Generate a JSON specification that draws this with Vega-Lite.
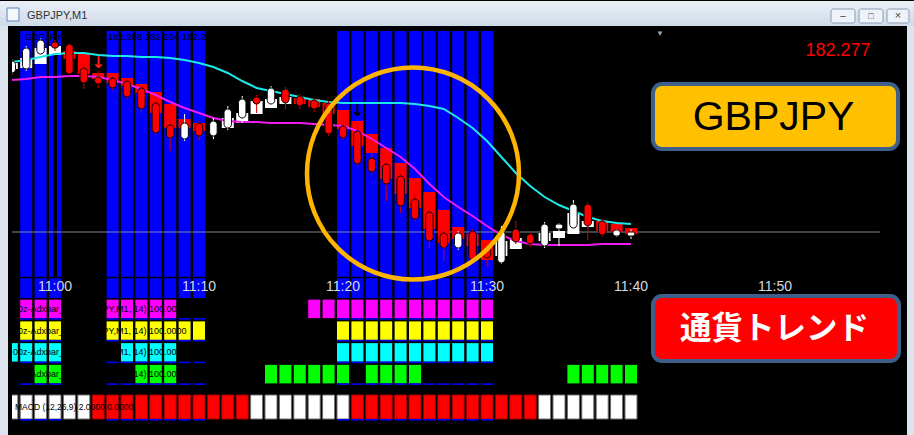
{
"$schema":"https://vega.github.io/schema/vega-lite/v6.json",
"background":"#000000",
"padding":0,
"autosize":{"type":"pad"},
"spacing":0,
"bounds":"flush",
"resolve":{"scale":{"color":"independent","fill":"independent","stroke":"independent"}},
"config":{"view":{"stroke":null},"axis":{"disable":true},"legend":{"disable":true},"font":"Liberation Sans","scale":{"continuousPadding":0}},
"datasets":{
"bars":[
{"m":-3,"ha":"up","hah":182.446,"hal":182.440,"o":182.436,"h":182.450,"l":182.434,"c":182.448},
{"m":-2,"ha":"up","hah":182.451,"hal":182.441,"o":182.440,"h":182.463,"l":182.438,"c":182.461},
{"m":-1,"ha":"up","hah":182.461,"hal":182.445,"o":182.455,"h":182.472,"l":182.453,"c":182.469},
{"m":0,"ha":"up","hah":182.463,"hal":182.454,"o":182.467,"h":182.469,"l":182.458,"c":182.461},
{"m":1,"ha":"down","hah":182.458,"hal":182.450,"o":182.465,"h":182.466,"l":182.433,"c":182.435},
{"m":2,"ha":"down","hah":182.455,"hal":182.435,"o":182.441,"h":182.446,"l":182.420,"c":182.426},
{"m":3,"ha":"down","hah":182.436,"hal":182.430,"o":182.432,"h":182.438,"l":182.421,"c":182.425},
{"m":4,"ha":"down","hah":182.436,"hal":182.426,"o":182.431,"h":182.433,"l":182.419,"c":182.421},
{"m":5,"ha":"down","hah":182.431,"hal":182.423,"o":182.428,"h":182.430,"l":182.410,"c":182.412},
{"m":6,"ha":"down","hah":182.425,"hal":182.416,"o":182.421,"h":182.423,"l":182.396,"c":182.400},
{"m":7,"ha":"down","hah":182.417,"hal":182.396,"o":182.406,"h":182.408,"l":182.374,"c":182.376},
{"m":8,"ha":"down","hah":182.405,"hal":182.381,"o":182.384,"h":182.390,"l":182.358,"c":182.371},
{"m":9,"ha":"down","hah":182.390,"hal":182.381,"o":182.370,"h":182.395,"l":182.368,"c":182.386},
{"m":10,"ha":"down","hah":182.386,"hal":182.378,"o":182.386,"h":182.388,"l":182.369,"c":182.373},
{"m":11,"ha":null,"hah":null,"hal":null,"o":182.373,"h":182.391,"l":182.370,"c":182.388},
{"m":12,"ha":"up","hah":182.391,"hal":182.381,"o":182.381,"h":182.403,"l":182.379,"c":182.400},
{"m":13,"ha":"up","hah":182.396,"hal":182.386,"o":182.391,"h":182.413,"l":182.386,"c":182.410},
{"m":14,"ha":"up","hah":182.408,"hal":182.395,"o":182.412,"h":182.414,"l":182.396,"c":182.405},
{"m":15,"ha":"up","hah":182.410,"hal":182.401,"o":182.405,"h":182.423,"l":182.402,"c":182.421},
{"m":16,"ha":"up","hah":182.412,"hal":182.405,"o":182.420,"h":182.422,"l":182.400,"c":182.406},
{"m":17,"ha":"down","hah":182.411,"hal":182.405,"o":182.413,"h":182.415,"l":182.400,"c":182.403},
{"m":18,"ha":"down","hah":182.410,"hal":182.402,"o":182.409,"h":182.411,"l":182.397,"c":182.400},
{"m":19,"ha":"down","hah":182.406,"hal":182.395,"o":182.406,"h":182.408,"l":182.373,"c":182.375},
{"m":20,"ha":"down","hah":182.399,"hal":182.380,"o":182.383,"h":182.385,"l":182.369,"c":182.371},
{"m":21,"ha":"down","hah":182.388,"hal":182.363,"o":182.378,"h":182.390,"l":182.343,"c":182.345},
{"m":22,"ha":"down","hah":182.375,"hal":182.356,"o":182.351,"h":182.357,"l":182.335,"c":182.337},
{"m":23,"ha":"down","hah":182.361,"hal":182.330,"o":182.345,"h":182.347,"l":182.308,"c":182.325},
{"m":24,"ha":"down","hah":182.346,"hal":182.315,"o":182.333,"h":182.335,"l":182.296,"c":182.303},
{"m":25,"ha":"down","hah":182.331,"hal":182.301,"o":182.310,"h":182.316,"l":182.288,"c":182.290},
{"m":26,"ha":"down","hah":182.317,"hal":182.280,"o":182.297,"h":182.299,"l":182.261,"c":182.268},
{"m":27,"ha":"down","hah":182.299,"hal":182.266,"o":182.276,"h":182.278,"l":182.248,"c":182.261},
{"m":28,"ha":"down","hah":182.282,"hal":182.270,"o":182.261,"h":182.278,"l":182.259,"c":182.276},
{"m":29,"ha":"down","hah":182.275,"hal":182.263,"o":182.278,"h":182.280,"l":182.247,"c":182.249},
{"m":30,"ha":"down","hah":182.269,"hal":182.249,"o":182.261,"h":182.263,"l":182.242,"c":182.251},
{"m":31,"ha":"up","hah":182.268,"hal":182.253,"o":182.246,"h":182.283,"l":182.245,"c":182.278},
{"m":32,"ha":"up","hah":182.271,"hal":182.260,"o":182.280,"h":182.288,"l":182.265,"c":182.267},
{"m":33,"ha":null,"hah":null,"hal":null,"o":182.275,"h":182.277,"l":182.262,"c":182.265},
{"m":34,"ha":"up","hah":182.276,"hal":182.268,"o":182.263,"h":182.287,"l":182.261,"c":182.285},
{"m":35,"ha":"up","hah":182.278,"hal":182.271,"o":182.280,"h":182.286,"l":182.263,"c":182.285},
{"m":36,"ha":"up","hah":182.296,"hal":182.275,"o":182.281,"h":182.309,"l":182.279,"c":182.305},
{"m":37,"ha":"up","hah":182.288,"hal":182.282,"o":182.305,"h":182.307,"l":182.269,"c":182.283},
{"m":38,"ha":"down","hah":182.288,"hal":182.278,"o":182.288,"h":182.290,"l":182.272,"c":182.274},
{"m":39,"ha":"down","hah":182.285,"hal":182.277,"o":182.273,"h":182.280,"l":182.272,"c":182.279},
{"m":40,"ha":"down","hah":182.281,"hal":182.275,"o":182.273,"h":182.280,"l":182.270,"c":182.277}
],
"ma":[
{"m":-3,"slow":182.447,"fast":182.429},{"m":-2,"slow":182.449,"fast":182.430},{"m":-1,"slow":182.452,"fast":182.432},{"m":0,"slow":182.455,"fast":182.432},
{"m":1,"slow":182.456,"fast":182.433},{"m":2,"slow":182.456,"fast":182.433},{"m":3,"slow":182.454,"fast":182.432},{"m":4,"slow":182.453,"fast":182.429},
{"m":5,"slow":182.453,"fast":182.425},{"m":6,"slow":182.452,"fast":182.420},{"m":7,"slow":182.452,"fast":182.414},{"m":8,"slow":182.451,"fast":182.407},
{"m":9,"slow":182.449,"fast":182.401},{"m":10,"slow":182.446,"fast":182.396},{"m":11,"slow":182.442,"fast":182.391},{"m":12,"slow":182.436,"fast":182.388},
{"m":13,"slow":182.428,"fast":182.387},{"m":14,"slow":182.421,"fast":182.387},{"m":15,"slow":182.418,"fast":182.386},{"m":16,"slow":182.415,"fast":182.386},
{"m":17,"slow":182.412,"fast":182.386},{"m":18,"slow":182.409,"fast":182.385},{"m":19,"slow":182.407,"fast":182.384},{"m":20,"slow":182.406,"fast":182.383},
{"m":21,"slow":182.406,"fast":182.378},{"m":22,"slow":182.406,"fast":182.370},{"m":23,"slow":182.406,"fast":182.361},{"m":24,"slow":182.406,"fast":182.352},
{"m":25,"slow":182.405,"fast":182.340},{"m":26,"slow":182.403,"fast":182.325},{"m":27,"slow":182.400,"fast":182.312},{"m":28,"slow":182.391,"fast":182.302},
{"m":29,"slow":182.381,"fast":182.293},{"m":30,"slow":182.368,"fast":182.283},{"m":31,"slow":182.352,"fast":182.274},{"m":32,"slow":182.336,"fast":182.268},
{"m":33,"slow":182.323,"fast":182.265},{"m":34,"slow":182.312,"fast":182.264},{"m":35,"slow":182.304,"fast":182.264},{"m":36,"slow":182.298,"fast":182.264},
{"m":37,"slow":182.292,"fast":182.264},{"m":38,"slow":182.288,"fast":182.265},{"m":39,"slow":182.286,"fast":182.265},{"m":40,"slow":182.285,"fast":182.265}
],
"bluecols":[{"m":-2},{"m":-1},{"m":0},{"m":4},{"m":5},{"m":6},{"m":7},{"m":8},{"m":9},{"m":10},{"m":20},{"m":21},{"m":22},{"m":23},{"m":24},{"m":25},{"m":26},{"m":27},{"m":28},{"m":29},{"m":30}],
"times":[{"m":0,"label":"11:00"},{"m":10,"label":"11:10"},{"m":20,"label":"11:20"},{"m":30,"label":"11:30"},{"m":40,"label":"11:40"},{"m":50,"label":"11:50"}],
"arrows":[{"m":3,"p":182.438,"kind":"sell"},{"m":21,"p":182.390,"kind":"signal"}],
"cells":[
{"m":-2,"row":"mag"},{"m":-1,"row":"mag"},{"m":0,"row":"mag"},{"m":4,"row":"mag"},{"m":5,"row":"mag"},{"m":6,"row":"mag"},{"m":7,"row":"mag"},{"m":8,"row":"mag"},
{"m":18,"row":"mag"},{"m":19,"row":"mag"},{"m":20,"row":"mag"},{"m":21,"row":"mag"},{"m":22,"row":"mag"},{"m":23,"row":"mag"},{"m":24,"row":"mag"},{"m":25,"row":"mag"},{"m":26,"row":"mag"},{"m":27,"row":"mag"},{"m":28,"row":"mag"},{"m":29,"row":"mag"},{"m":30,"row":"mag"},
{"m":-2,"row":"yel"},{"m":-1,"row":"yel"},{"m":0,"row":"yel"},{"m":4,"row":"yel"},{"m":5,"row":"yel"},{"m":6,"row":"yel"},{"m":7,"row":"yel"},{"m":8,"row":"yel"},{"m":9,"row":"yel"},{"m":10,"row":"yel"},
{"m":20,"row":"yel"},{"m":21,"row":"yel"},{"m":22,"row":"yel"},{"m":23,"row":"yel"},{"m":24,"row":"yel"},{"m":25,"row":"yel"},{"m":26,"row":"yel"},{"m":27,"row":"yel"},{"m":28,"row":"yel"},{"m":29,"row":"yel"},{"m":30,"row":"yel"},
{"m":-3,"row":"cyan"},{"m":-2,"row":"cyan"},{"m":-1,"row":"cyan"},{"m":0,"row":"cyan"},{"m":5,"row":"cyan"},{"m":6,"row":"cyan"},{"m":7,"row":"cyan"},{"m":8,"row":"cyan"},
{"m":20,"row":"cyan"},{"m":21,"row":"cyan"},{"m":22,"row":"cyan"},{"m":23,"row":"cyan"},{"m":24,"row":"cyan"},{"m":25,"row":"cyan"},{"m":26,"row":"cyan"},{"m":27,"row":"cyan"},{"m":28,"row":"cyan"},{"m":29,"row":"cyan"},{"m":30,"row":"cyan"},
{"m":-1,"row":"grn"},{"m":0,"row":"grn"},{"m":6,"row":"grn"},{"m":7,"row":"grn"},{"m":8,"row":"grn"},{"m":15,"row":"grn"},{"m":16,"row":"grn"},{"m":17,"row":"grn"},{"m":18,"row":"grn"},{"m":19,"row":"grn"},{"m":20,"row":"grn"},
{"m":22,"row":"grn"},{"m":23,"row":"grn"},{"m":24,"row":"grn"},{"m":25,"row":"grn"},{"m":36,"row":"grn"},{"m":37,"row":"grn"},{"m":38,"row":"grn"},{"m":39,"row":"grn"},{"m":40,"row":"grn"}
],
"macd":[
{"m":-3,"state":"white"},{"m":-2,"state":"white"},{"m":-1,"state":"white"},{"m":0,"state":"white"},{"m":1,"state":"white"},{"m":2,"state":"white"},
{"m":3,"state":"red"},{"m":4,"state":"red"},{"m":5,"state":"red"},{"m":6,"state":"red"},{"m":7,"state":"red"},{"m":8,"state":"red"},{"m":9,"state":"red"},{"m":10,"state":"red"},{"m":11,"state":"red"},{"m":12,"state":"red"},{"m":13,"state":"red"},
{"m":14,"state":"white"},{"m":15,"state":"white"},{"m":16,"state":"white"},{"m":17,"state":"white"},{"m":18,"state":"white"},{"m":19,"state":"white"},{"m":20,"state":"white"},
{"m":21,"state":"red"},{"m":22,"state":"red"},{"m":23,"state":"red"},{"m":24,"state":"red"},{"m":25,"state":"red"},{"m":26,"state":"red"},{"m":27,"state":"red"},{"m":28,"state":"red"},{"m":29,"state":"red"},{"m":30,"state":"red"},{"m":31,"state":"red"},{"m":32,"state":"red"},{"m":33,"state":"red"},
{"m":34,"state":"white"},{"m":35,"state":"white"},{"m":36,"state":"white"},{"m":37,"state":"white"},{"m":38,"state":"white"},{"m":39,"state":"white"},{"m":40,"state":"white"}
],
"rowlabels":[{"row":"mag"},{"row":"yel"},{"row":"cyan"},{"row":"grn"}]
},
"vconcat":[
{
"width":895,"height":272,
"layer":[
{"data":{"values":[{}]},"mark":{"type":"rect","fill":{"gradient":"linear","x1":0,"y1":0,"x2":0,"y2":1,"stops":[{"offset":0,"color":"#eaf0f7"},{"offset":1,"color":"#cfdae8"}]}},
 "encoding":{"x":{"datum":-3.819,"type":"quantitative","scale":{"domain":[-2.986,59.167],"nice":false,"zero":false,"padding":0}},"x2":{"datum":30},"y":{"datum":182.508,"type":"quantitative","scale":{"domain":[182.211,182.483],"nice":false,"zero":false,"padding":0}},"y2":{"datum":182.483}}},
{"data":{"values":[{}]},"mark":{"type":"rect","fill":{"gradient":"linear","x1":0,"y1":0,"x2":0,"y2":1,"stops":[{"offset":0,"color":"#eaf0f7"},{"offset":1,"color":"#cfdae8"}]}},
 "encoding":{"x":{"datum":59.653,"type":"quantitative","scale":{"domain":[-2.986,59.167],"nice":false,"zero":false,"padding":0}},"x2":{"datum":29.9},"y":{"datum":182.508,"type":"quantitative","scale":{"domain":[182.211,182.483],"nice":false,"zero":false,"padding":0}},"y2":{"datum":182.483}}},
{"data":{"values":[{}]},"mark":{"type":"rect","fill":"#dce4ee"},
 "encoding":{"x":{"datum":-3.819,"type":"quantitative","scale":{"domain":[-2.986,59.167],"nice":false,"zero":false,"padding":0}},"x2":{"datum":-2.986},"y":{"datum":182.483,"type":"quantitative","scale":{"domain":[182.211,182.483],"nice":false,"zero":false,"padding":0}},"y2":{"datum":182.211}}},
{"data":{"values":[{}]},"mark":{"type":"rect","fill":"#dce4ee"},
 "encoding":{"x":{"datum":-3.819,"type":"quantitative","scale":{"domain":[-2.986,59.167],"nice":false,"zero":false,"padding":0}},"x2":{"datum":-2.986},"y":{"datum":182.073,"type":"quantitative","scale":{"domain":[182.211,182.483],"nice":false,"zero":false,"padding":0}},"y2":{"datum":182.211}}},
{"data":{"values":[{}]},"mark":{"type":"rect","fill":"#000000"},
 "encoding":{"x":{"datum":-3.264,"type":"quantitative","scale":{"domain":[-2.986,59.167],"nice":false,"zero":false,"padding":0}},"x2":{"datum":-2.986},"y":{"datum":182.073,"type":"quantitative","scale":{"domain":[182.211,182.483],"nice":false,"zero":false,"padding":0}},"y2":{"datum":182.483}}},
{"data":{"values":[{}]},"mark":{"type":"rect","fill":"#dce4ee"},
 "encoding":{"x":{"datum":59.653,"type":"quantitative","scale":{"domain":[-2.986,59.167],"nice":false,"zero":false,"padding":0}},"x2":{"datum":59.167},"y":{"datum":182.483,"type":"quantitative","scale":{"domain":[182.211,182.483],"nice":false,"zero":false,"padding":0}},"y2":{"datum":182.211}}},
{"data":{"values":[{}]},"mark":{"type":"rect","fill":"#dce4ee"},
 "encoding":{"x":{"datum":59.653,"type":"quantitative","scale":{"domain":[-2.986,59.167],"nice":false,"zero":false,"padding":0}},"x2":{"datum":59.167},"y":{"datum":182.073,"type":"quantitative","scale":{"domain":[182.211,182.483],"nice":false,"zero":false,"padding":0}},"y2":{"datum":182.211}}},
{"data":{"values":[{}]},"mark":{"type":"rect","fill":"#f4f8fc","stroke":"#5a86c0","strokeWidth":1},
 "encoding":{"x":{"datum":-3.333,"type":"quantitative","scale":{"domain":[-2.986,59.167],"nice":false,"zero":false,"padding":0}},"x2":{"datum":-2.5},"y":{"datum":182.501,"type":"quantitative","scale":{"domain":[182.211,182.483],"nice":false,"zero":false,"padding":0}},"y2":{"datum":182.488}}},
{"data":{"values":[{}]},"mark":{"type":"rect","fill":"#eef3f9","stroke":"#8d9db2","strokeWidth":1,"cornerRadius":2},
 "encoding":{"x":{"datum":53.889,"type":"quantitative","scale":{"domain":[-2.986,59.167],"nice":false,"zero":false,"padding":0}},"x2":{"datum":55.556},"y":{"datum":182.500,"type":"quantitative","scale":{"domain":[182.211,182.483],"nice":false,"zero":false,"padding":0}},"y2":{"datum":182.486}}},
{"data":{"values":[{}]},"mark":{"type":"rect","fill":"#eef3f9","stroke":"#8d9db2","strokeWidth":1,"cornerRadius":2},
 "encoding":{"x":{"datum":55.833,"type":"quantitative","scale":{"domain":[-2.986,59.167],"nice":false,"zero":false,"padding":0}},"x2":{"datum":57.5},"y":{"datum":182.500,"type":"quantitative","scale":{"domain":[182.211,182.483],"nice":false,"zero":false,"padding":0}},"y2":{"datum":182.486}}},
{"data":{"values":[{}]},"mark":{"type":"rect","fill":"#eef3f9","stroke":"#8d9db2","strokeWidth":1,"cornerRadius":2},
 "encoding":{"x":{"datum":59.306,"type":"quantitative","scale":{"domain":[-2.986,59.167],"nice":false,"zero":false,"padding":0}},"x2":{"datum":57.778},"y":{"datum":182.500,"type":"quantitative","scale":{"domain":[182.211,182.483],"nice":false,"zero":false,"padding":0}},"y2":{"datum":182.486}}},
{"data":{"values":[{}]},"mark":{"type":"text","text":"–","fontSize":10,"color":"#444444","align":"center","baseline":"middle"},
 "encoding":{"x":{"datum":54.72,"type":"quantitative","scale":{"domain":[-2.986,59.167],"nice":false,"zero":false,"padding":0}},"y":{"datum":182.493,"type":"quantitative","scale":{"domain":[182.211,182.483],"nice":false,"zero":false,"padding":0}}}},
{"data":{"values":[{}]},"mark":{"type":"text","text":"□","fontSize":9,"color":"#444444","align":"center","baseline":"middle"},
 "encoding":{"x":{"datum":56.67,"type":"quantitative","scale":{"domain":[-2.986,59.167],"nice":false,"zero":false,"padding":0}},"y":{"datum":182.493,"type":"quantitative","scale":{"domain":[182.211,182.483],"nice":false,"zero":false,"padding":0}}}},
{"data":{"values":[{}]},"mark":{"type":"text","text":"×","fontSize":11,"color":"#444444","align":"center","baseline":"middle"},
 "encoding":{"x":{"datum":58.54,"type":"quantitative","scale":{"domain":[-2.986,59.167],"nice":false,"zero":false,"padding":0}},"y":{"datum":182.493,"type":"quantitative","scale":{"domain":[182.211,182.483],"nice":false,"zero":false,"padding":0}}}},
{"data":{"values":[{}]},"mark":{"type":"text","text":"GBPJPY,M1","fontSize":11,"color":"#333333","align":"left","baseline":"middle"},
 "encoding":{"x":{"datum":-1.944,"type":"quantitative","scale":{"domain":[-2.986,59.167],"nice":false,"zero":false,"padding":0}},"y":{"datum":182.493,"type":"quantitative","scale":{"domain":[182.211,182.483],"nice":false,"zero":false,"padding":0}}}},
{"data":{"name":"bluecols"},"mark":{"type":"bar","width":12,"color":"#0000ff"},
 "encoding":{"x":{"field":"m","type":"quantitative","scale":{"domain":[-2.986,59.167],"nice":false,"zero":false,"padding":0}},"y":{"datum":182.478,"type":"quantitative","scale":{"domain":[182.211,182.483],"nice":false,"zero":false,"padding":0}},"y2":{"datum":182.211}}},
{"data":{"values":[{}]},"mark":{"type":"rule","color":"#000000","strokeWidth":4},
 "encoding":{"x":{"datum":0,"type":"quantitative","scale":{"domain":[-2.986,59.167],"nice":false,"zero":false,"padding":0}},"y":{"datum":182.478,"type":"quantitative","scale":{"domain":[182.211,182.483],"nice":false,"zero":false,"padding":0}},"y2":{"datum":182.232}}},
{"data":{"values":[{}]},"mark":{"type":"rule","color":"#000000","strokeWidth":1.5},
 "encoding":{"x":{"datum":-2.986,"type":"quantitative","scale":{"domain":[-2.986,59.167],"nice":false,"zero":false,"padding":0}},"x2":{"datum":59.167},"y":{"datum":182.2315,"type":"quantitative","scale":{"domain":[182.211,182.483],"nice":false,"zero":false,"padding":0}}}},
{"data":{"values":[{}]},"mark":{"type":"rule","color":"#7d8893","strokeWidth":1},
 "encoding":{"x":{"datum":-2.986,"type":"quantitative","scale":{"domain":[-2.986,59.167],"nice":false,"zero":false,"padding":0}},"x2":{"datum":57.29},"y":{"datum":182.277,"type":"quantitative","scale":{"domain":[182.211,182.483],"nice":false,"zero":false,"padding":0}}}},
{"data":{"name":"bars"},"transform":[{"filter":"datum.ha != null"}],"mark":{"type":"bar","width":12,"clip":true},
 "encoding":{"x":{"field":"m","type":"quantitative","scale":{"domain":[-2.986,59.167],"nice":false,"zero":false,"padding":0}},"y":{"field":"hah","type":"quantitative","scale":{"domain":[182.211,182.483],"nice":false,"zero":false,"padding":0}},"y2":{"field":"hal"},
  "fill":{"field":"ha","type":"nominal","scale":{"domain":["up","down"],"range":["#ffffff","#ff0000"]}}}},
{"data":{"name":"ma"},"mark":{"type":"line","color":"#1de9e9","strokeWidth":2,"clip":true},
 "encoding":{"x":{"field":"m","type":"quantitative","scale":{"domain":[-2.986,59.167],"nice":false,"zero":false,"padding":0}},"y":{"field":"slow","type":"quantitative","scale":{"domain":[182.211,182.483],"nice":false,"zero":false,"padding":0}}}},
{"data":{"name":"ma"},"mark":{"type":"line","color":"#f01cf0","strokeWidth":2,"clip":true},
 "encoding":{"x":{"field":"m","type":"quantitative","scale":{"domain":[-2.986,59.167],"nice":false,"zero":false,"padding":0}},"y":{"field":"fast","type":"quantitative","scale":{"domain":[182.211,182.483],"nice":false,"zero":false,"padding":0}}}},
{"data":{"name":"bars"},"mark":{"type":"rule","strokeWidth":1,"clip":true},
 "encoding":{"x":{"field":"m","type":"quantitative","scale":{"domain":[-2.986,59.167],"nice":false,"zero":false,"padding":0}},"y":{"field":"l","type":"quantitative","scale":{"domain":[182.211,182.483],"nice":false,"zero":false,"padding":0}},"y2":{"field":"h"},
  "color":{"condition":{"test":"datum.c >= datum.o","value":"#ffffff"},"value":"#d40000"}}},
{"data":{"name":"bars"},"mark":{"type":"bar","width":7.5,"cornerRadius":3.7,"stroke":"#000000","strokeWidth":1,"clip":true},
 "encoding":{"x":{"field":"m","type":"quantitative","scale":{"domain":[-2.986,59.167],"nice":false,"zero":false,"padding":0}},"y":{"field":"o","type":"quantitative","scale":{"domain":[182.211,182.483],"nice":false,"zero":false,"padding":0}},"y2":{"field":"c"},
  "fill":{"condition":{"test":"datum.c >= datum.o","value":"#ffffff"},"value":"#ff0000"}}},
{"data":{"name":"arrows"},"mark":{"type":"text","fontSize":16,"fontWeight":"bold","baseline":"bottom","align":"center","font":"DejaVu Sans"},
 "encoding":{"x":{"field":"m","type":"quantitative","scale":{"domain":[-2.986,59.167],"nice":false,"zero":false,"padding":0}},"y":{"field":"p","type":"quantitative","scale":{"domain":[182.211,182.483],"nice":false,"zero":false,"padding":0}},
  "text":{"value":"↓"},"color":{"condition":{"test":"datum.kind == 'sell'","value":"#ff2020"},"value":"#000000"}}},
{"data":{"values":[{}]},"mark":{"type":"text","text":"GBPJPY,M1","fontSize":9.5,"color":"#000000","align":"left","baseline":"middle"},
 "encoding":{"x":{"datum":-2.083,"type":"quantitative","scale":{"domain":[-2.986,59.167],"nice":false,"zero":false,"padding":0}},"y":{"datum":182.472,"type":"quantitative","scale":{"domain":[182.211,182.483],"nice":false,"zero":false,"padding":0}}}},
{"data":{"values":[{}]},"mark":{"type":"text","text":"182.288 182.264 182.277","fontSize":9.5,"color":"#000000","align":"left","baseline":"middle"},
 "encoding":{"x":{"datum":3.68,"type":"quantitative","scale":{"domain":[-2.986,59.167],"nice":false,"zero":false,"padding":0}},"y":{"datum":182.472,"type":"quantitative","scale":{"domain":[182.211,182.483],"nice":false,"zero":false,"padding":0}}}},
{"data":{"values":[{}]},"mark":{"type":"text","text":"182.277","fontSize":18,"color":"#ff0000","align":"center","baseline":"middle"},
 "encoding":{"x":{"datum":54.375,"type":"quantitative","scale":{"domain":[-2.986,59.167],"nice":false,"zero":false,"padding":0}},"y":{"datum":182.458,"type":"quantitative","scale":{"domain":[182.211,182.483],"nice":false,"zero":false,"padding":0}}}},
{"data":{"values":[{}]},"mark":{"type":"text","text":"▼","fontSize":8,"color":"#9aa3ad","align":"center","baseline":"middle"},
 "encoding":{"x":{"datum":42.01,"type":"quantitative","scale":{"domain":[-2.986,59.167],"nice":false,"zero":false,"padding":0}},"y":{"datum":182.475,"type":"quantitative","scale":{"domain":[182.211,182.483],"nice":false,"zero":false,"padding":0}}}},
{"data":{"name":"times"},"mark":{"type":"text","fontSize":14,"color":"#d6dae2","align":"center","baseline":"middle"},
 "encoding":{"x":{"field":"m","type":"quantitative","scale":{"domain":[-2.986,59.167],"nice":false,"zero":false,"padding":0}},"y":{"datum":182.222,"type":"quantitative","scale":{"domain":[182.211,182.483],"nice":false,"zero":false,"padding":0}},"text":{"field":"label"}}},
{"data":{"values":[{}]},"mark":{"type":"point","shape":"circle","filled":false,"stroke":"#ffb400","strokeWidth":4.5,"size":44944,"opacity":1},
 "encoding":{"x":{"datum":24.86,"type":"quantitative","scale":{"domain":[-2.986,59.167],"nice":false,"zero":false,"padding":0}},"y":{"datum":182.3355,"type":"quantitative","scale":{"domain":[182.211,182.483],"nice":false,"zero":false,"padding":0}}}},
{"data":{"values":[{}]},"mark":{"type":"rect","fill":"#ffc000","stroke":"#3f5f8b","strokeWidth":4,"cornerRadius":9},
 "encoding":{"x":{"datum":41.528,"type":"quantitative","scale":{"domain":[-2.986,59.167],"nice":false,"zero":false,"padding":0}},"x2":{"datum":58.542},"y":{"datum":182.425,"type":"quantitative","scale":{"domain":[182.211,182.483],"nice":false,"zero":false,"padding":0}},"y2":{"datum":182.360}}},
{"data":{"values":[{}]},"mark":{"type":"text","text":"GBPJPY","fontSize":41,"color":"#000000","align":"center","baseline":"middle"},
 "encoding":{"x":{"datum":49.9,"type":"quantitative","scale":{"domain":[-2.986,59.167],"nice":false,"zero":false,"padding":0}},"y":{"datum":182.391,"type":"quantitative","scale":{"domain":[182.211,182.483],"nice":false,"zero":false,"padding":0}}}},
{"data":{"values":[{}]},"mark":{"type":"rect","fill":"#ff0000","stroke":"#3f5f8b","strokeWidth":4,"cornerRadius":9},
 "encoding":{"x":{"datum":41.528,"type":"quantitative","scale":{"domain":[-2.986,59.167],"nice":false,"zero":false,"padding":0}},"x2":{"datum":58.611},"y":{"datum":182.148,"type":"quantitative","scale":{"domain":[182.211,182.483],"nice":false,"zero":false,"padding":0}},"y2":{"datum":182.213}}},
{"data":{"values":[{}]},"mark":{"type":"text","text":"通貨トレンド","fontSize":31.5,"fontWeight":"bold","font":"Noto Sans CJK JP","color":"#ffffff","align":"center","baseline":"middle"},
 "encoding":{"x":{"datum":49.97,"type":"quantitative","scale":{"domain":[-2.986,59.167],"nice":false,"zero":false,"padding":0}},"y":{"datum":182.179,"type":"quantitative","scale":{"domain":[182.211,182.483],"nice":false,"zero":false,"padding":0}}}}
]
},
{
"width":895,"height":87,
"layer":[
{"data":{"name":"cells"},"mark":{"type":"tick","orient":"vertical","thickness":12,"size":18.5,"opacity":1,"clip":true},
 "encoding":{"x":{"field":"m","type":"quantitative","scale":{"domain":[-2.986,59.167],"nice":false,"zero":false,"padding":0}},"y":{"field":"row","type":"nominal","scale":{"type":"band","domain":["mag","yel","cyan","grn"],"paddingInner":0,"paddingOuter":0}},
  "color":{"field":"row","type":"nominal","scale":{"domain":["mag","yel","cyan","grn"],"range":["#ff00ff","#ffff00","#00ffff","#00ff00"]}}}},
{"data":{"name":"bluecols"},"mark":{"type":"tick","orient":"vertical","thickness":12,"size":1.6,"opacity":1,"color":"#0000ff","yOffset":10},
 "encoding":{"x":{"field":"m","type":"quantitative","scale":{"domain":[-2.986,59.167],"nice":false,"zero":false,"padding":0}},"y":{"datum":"mag","type":"nominal","scale":{"type":"band","domain":["mag","yel","cyan","grn"],"paddingInner":0,"paddingOuter":0}}}},
{"data":{"name":"bluecols"},"mark":{"type":"tick","orient":"vertical","thickness":12,"size":1.6,"opacity":1,"color":"#0000ff","yOffset":10},
 "encoding":{"x":{"field":"m","type":"quantitative","scale":{"domain":[-2.986,59.167],"nice":false,"zero":false,"padding":0}},"y":{"datum":"yel","type":"nominal","scale":{"type":"band","domain":["mag","yel","cyan","grn"],"paddingInner":0,"paddingOuter":0}}}},
{"data":{"name":"bluecols"},"mark":{"type":"tick","orient":"vertical","thickness":12,"size":1.6,"opacity":1,"color":"#0000ff","yOffset":10},
 "encoding":{"x":{"field":"m","type":"quantitative","scale":{"domain":[-2.986,59.167],"nice":false,"zero":false,"padding":0}},"y":{"datum":"cyan","type":"nominal","scale":{"type":"band","domain":["mag","yel","cyan","grn"],"paddingInner":0,"paddingOuter":0}}}},
{"data":{"name":"bluecols"},"mark":{"type":"tick","orient":"vertical","thickness":12,"size":1.6,"opacity":1,"color":"#0000ff","yOffset":10},
 "encoding":{"x":{"field":"m","type":"quantitative","scale":{"domain":[-2.986,59.167],"nice":false,"zero":false,"padding":0}},"y":{"datum":"grn","type":"nominal","scale":{"type":"band","domain":["mag","yel","cyan","grn"],"paddingInner":0,"paddingOuter":0}}}},
{"data":{"name":"rowlabels"},"mark":{"type":"text","text":"00z-Adxbar_v2 (GBPJPY,M1, 14) 100.0000","fontSize":9,"color":"#000000","align":"left","baseline":"middle"},
 "encoding":{"x":{"datum":-2.917,"type":"quantitative","scale":{"domain":[-2.986,59.167],"nice":false,"zero":false,"padding":0}},"y":{"field":"row","type":"nominal","scale":{"type":"band","domain":["mag","yel","cyan","grn"],"paddingInner":0,"paddingOuter":0}}}}
]
},
{
"width":895,"height":44,
"layer":[
{"data":{"name":"macd"},"mark":{"type":"tick","orient":"vertical","thickness":12,"size":24,"opacity":1,"strokeWidth":1,"clip":true},
 "encoding":{"x":{"field":"m","type":"quantitative","scale":{"domain":[-2.986,59.167],"nice":false,"zero":false,"padding":0}},"y":{"datum":"macd","type":"nominal","scale":{"type":"band","domain":["macd"],"paddingInner":0,"paddingOuter":0}},
  "fill":{"field":"state","type":"nominal","scale":{"domain":["white","red"],"range":["#ffffff","#ff0000"]}},
  "stroke":{"field":"state","type":"nominal","scale":{"domain":["white","red"],"range":["#707070","#a00000"]}}}},
{"data":{"name":"bluecols"},"mark":{"type":"tick","orient":"vertical","thickness":12,"size":1.6,"opacity":1,"color":"#0000ff","yOffset":12.8},
 "encoding":{"x":{"field":"m","type":"quantitative","scale":{"domain":[-2.986,59.167],"nice":false,"zero":false,"padding":0}},"y":{"datum":"macd","type":"nominal","scale":{"type":"band","domain":["macd"],"paddingInner":0,"paddingOuter":0}}}},
{"data":{"values":[{}]},"mark":{"type":"text","text":"MACD (12,26,9) 2.0000 0.0000","fontSize":8.5,"color":"#000000","align":"left","baseline":"middle"},
 "encoding":{"x":{"datum":-2.778,"type":"quantitative","scale":{"domain":[-2.986,59.167],"nice":false,"zero":false,"padding":0}},"y":{"datum":"macd","type":"nominal","scale":{"type":"band","domain":["macd"],"paddingInner":0,"paddingOuter":0}}}}
]
}
]
}
